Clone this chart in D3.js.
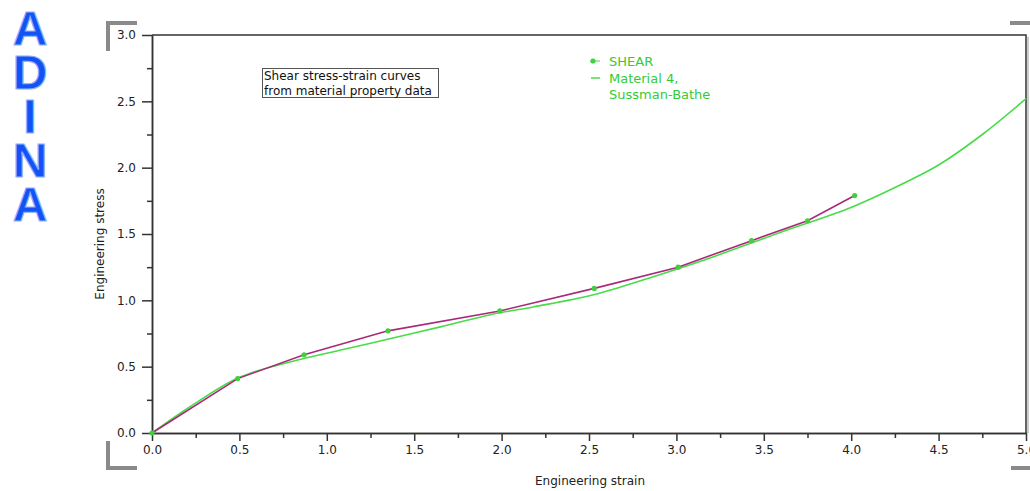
<!DOCTYPE html>
<html>
<head>
<meta charset="utf-8">
<script src="https://cdn.jsdelivr.net/npm/d3@7"></script>
<style>
  body { margin: 0; background: #fff; }
  svg { display: block; }
</style>
</head>
<body>
<svg id="chart"></svg>
<script>
// SHEAR test points (material property data)
const shearStrain = [0, 0.49, 0.87, 1.35, 1.99, 2.53, 3.01, 3.43, 3.75, 4.02];
const shearStress = [0, 0.41, 0.59, 0.77, 0.92, 1.09, 1.25, 1.45, 1.60, 1.79];

// Material 4, Sussman-Bathe fitted curve
const fitStrain = [0, 0.22, 0.50, 0.79, 1.08, 1.36, 1.65, 1.93, 2.18, 2.52, 2.85, 3.13, 3.59, 3.98, 4.28, 4.50, 4.75, 5.0];
const fitStress = [0, 0.20, 0.42, 0.535, 0.625, 0.71, 0.80, 0.89, 0.95, 1.04, 1.17, 1.29, 1.51, 1.69, 1.87, 2.02, 2.25, 2.52];

const xMajor = [0, 0.5, 1.0, 1.5, 2.0, 2.5, 3.0, 3.5, 4.0, 4.5, 5.0];
const xMinor = [0.25, 0.75, 1.25, 1.75, 2.25, 2.75, 3.25, 3.75, 4.25, 4.75];
const yMajor = [0, 0.5, 1.0, 1.5, 2.0, 2.5, 3.0];
const yMinor = [0.25, 0.75, 1.25, 1.75, 2.25, 2.75];

const legendLabels = ["SHEAR", "Material 4,", "Sussman-Bathe"];
const noteLines = ["Shear stress-strain curves", "from material property data"];
const logoLetters = ["A", "D", "I", "N", "A"];

function CreateChart(divid) {
    let width = 1030;
    let height = 491;
    let margin = { top: 35, right: 4, bottom: 58, left: 152 };

    let svg = d3.select(divid)
        .attr("width", width)
        .attr("height", height)
        .style("font-family", "'DejaVu Sans', sans-serif");

    let x = d3.scaleLinear()
        .domain([0, 5])
        .range([margin.left, width - margin.right]);

    let y = d3.scaleLinear()
        .domain([0, 3])
        .range([height - margin.bottom, margin.top]);

    const axisColor = "#333";

    // ADINA logo, letters stacked down the left side (one text, one tspan per letter)
    svg.append("text")
        .attr("x", 30)
        .attr("y", 45)
        .style("font-family", "'Liberation Sans', Arial, sans-serif")
        .style("font-weight", "bold")
        .style("font-size", "48px")
        .attr("text-anchor", "middle")
        .attr("fill", "#1452f5")
        .attr("stroke", "#8fb0ff")
        .attr("stroke-width", 1.2)
        .selectAll("tspan")
        .data(logoLetters)
        .join("tspan")
        .attr("x", 30)
        .attr("dy", (d, i) => i === 0 ? 0 : 44)
        .text(d => d);

    // grey corner brackets
    let brk = svg.append("g")
        .attr("fill", "none")
        .attr("stroke", "#8a8a8a")
        .attr("stroke-width", 4);
    brk.append("path").attr("d", "M108,51 V23 H137");
    brk.append("path").attr("d", "M108,441 V468 H137");
    brk.append("path").attr("d", "M1010,23 H1030");
    brk.append("path").attr("d", "M1011,468 H1030");

    // frame: top and right lines
    svg.append("path")
        .attr("fill", "none")
        .attr("stroke", axisColor)
        .attr("stroke-width", 1.5)
        .attr("d", `M${x(0)},${y(3)} H${x(5)} V${y(0)}`);
    svg.append("line")
        .attr("x1", x(5) + 2).attr("x2", x(5) + 2)
        .attr("y1", y(3) + 2).attr("y2", y(0))
        .attr("stroke", "#999").attr("stroke-width", 1);

    // X axis: minor then major ticks
    let xMinorAxis = svg.append("g")
        .attr("transform", `translate(0,${y(0)})`)
        .call(d3.axisBottom(x).tickValues(xMinor).tickSize(5).tickSizeOuter(0).tickFormat(""));
    let xAxis = svg.append("g")
        .attr("transform", `translate(0,${y(0)})`)
        .call(d3.axisBottom(x).tickValues(xMajor).tickSize(8).tickSizeOuter(0).tickFormat(d3.format(".1f")));

    // Y axis
    let yMinorAxis = svg.append("g")
        .attr("transform", `translate(${x(0)},0)`)
        .call(d3.axisLeft(y).tickValues(yMinor).tickSize(5).tickSizeOuter(0).tickFormat(""));
    let yAxis = svg.append("g")
        .attr("transform", `translate(${x(0)},0)`)
        .call(d3.axisLeft(y).tickValues(yMajor).tickSize(10).tickSizeOuter(0).tickFormat(d3.format(".1f")));

    [xMinorAxis, xAxis, yMinorAxis, yAxis].forEach(g => {
        g.select(".domain").attr("stroke", axisColor).attr("stroke-width", 1.5);
        g.selectAll(".tick line").attr("stroke", axisColor).attr("stroke-width", 1.5);
        g.selectAll(".tick text")
            .attr("fill", "#222")
            .style("font-family", "'DejaVu Sans', sans-serif")
            .style("font-size", "12px");
    });
    xAxis.selectAll(".tick text").attr("y", 12);
    yAxis.selectAll(".tick text").attr("x", -16);

    // axis titles
    svg.append("text")
        .attr("x", 590)
        .attr("y", 485)
        .attr("text-anchor", "middle")
        .attr("fill", "#222")
        .style("font-size", "12px")
        .text("Engineering strain");
    svg.append("text")
        .attr("transform", "translate(104,244) rotate(-90)")
        .attr("text-anchor", "middle")
        .attr("fill", "#222")
        .style("font-size", "12px")
        .text("Engineering stress");

    // note box
    svg.append("rect")
        .attr("x", 262.5).attr("y", 68.5)
        .attr("width", 176).attr("height", 29)
        .attr("fill", "#fff")
        .attr("stroke", "#555")
        .attr("stroke-width", 1);
    svg.append("g").selectAll("text")
        .data(noteLines)
        .join("text")
        .attr("x", 264)
        .attr("y", (d, i) => 80 + i * 15)
        .attr("fill", "#111")
        .style("font-size", "12px")
        .text(d => d);

    const fitColor = "#48dc48";
    const shearColor = "#a82a7a";

    // fitted curve
    let fitData = fitStrain.map((v, i) => [v, fitStress[i]]);
    svg.append("path")
        .datum(fitData)
        .attr("fill", "none")
        .attr("stroke", fitColor)
        .attr("stroke-width", 1.6)
        .attr("d", d3.line().x(d => x(d[0])).y(d => y(d[1])).curve(d3.curveCatmullRom.alpha(0.5)));

    // shear data polyline
    let shearData = shearStrain.map((v, i) => [v, shearStress[i]]);
    svg.append("path")
        .datum(shearData)
        .attr("fill", "none")
        .attr("stroke", shearColor)
        .attr("stroke-width", 1.6)
        .attr("d", d3.line().x(d => x(d[0])).y(d => y(d[1])));

    svg.append("g")
        .attr("fill", "#3fcf3f")
        .selectAll("circle")
        .data(shearData)
        .join("circle")
        .attr("cx", d => x(d[0]))
        .attr("cy", d => y(d[1]))
        .attr("r", 2.6);

    // legend
    let legend = svg.append("g").style("font-size", "13px");
    legend.append("circle").attr("cx", 593).attr("cy", 61).attr("r", 2.6).attr("fill", "#3fcf3f");
    legend.append("line")
        .attr("x1", 590).attr("x2", 600).attr("y1", 61).attr("y2", 61)
        .attr("stroke", fitColor).attr("stroke-width", 1);
    legend.append("line")
        .attr("x1", 591).attr("x2", 600).attr("y1", 78).attr("y2", 78)
        .attr("stroke", fitColor).attr("stroke-width", 1.5);
    legend.selectAll("text")
        .data(legendLabels)
        .join("text")
        .attr("x", 609)
        .attr("y", (d, i) => [66, 83, 99][i])
        .attr("fill", "#33cc33")
        .text(d => d);
}

CreateChart("#chart");
</script>
</body>
</html>
